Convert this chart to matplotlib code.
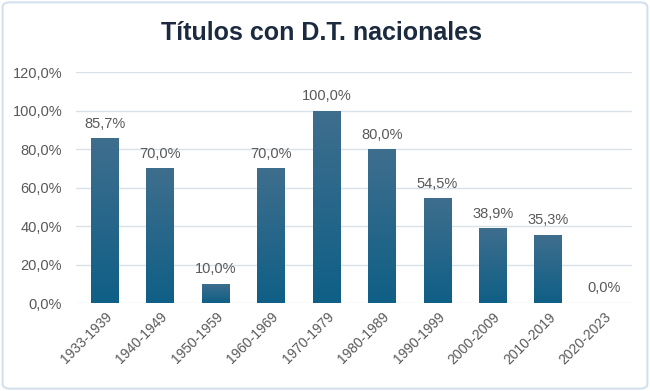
import numpy as np
import matplotlib.pyplot as plt
from matplotlib.patches import FancyBboxPatch
from matplotlib.ticker import FuncFormatter
from matplotlib.colors import LinearSegmentedColormap

decadas = ['1933-1939', '1940-1949', '1950-1959', '1960-1969', '1970-1979',
           '1980-1989', '1990-1999', '2000-2009', '2010-2019', '2020-2023']
porcentajes = [85.7, 70.0, 10.0, 70.0, 100.0, 80.0, 54.5, 38.9, 35.3, 0.0]
titulo = 'Títulos con D.T. nacionales'

plt.rcParams['font.family'] = ['Liberation Sans', 'DejaVu Sans']

fig = plt.figure(figsize=(6.5, 3.91), dpi=100)
fig.patch.set_facecolor('white')
borde = FancyBboxPatch((0.004, 0.006), 0.992, 0.988, boxstyle='round,pad=0,rounding_size=0.012',
                       transform=fig.transFigure, facecolor='none', edgecolor='#d4e1ed',
                       linewidth=1.5, zorder=-1)
fig.patches.append(borde)

ax = fig.add_axes([0.117, 0.225, 0.856, 0.59])
x = np.arange(len(decadas))
bars = ax.bar(x, porcentajes, width=0.5, color='#1f6189', zorder=2)

# degradado vertical en cada barra
grad = np.linspace(0, 1, 256).reshape(-1, 1)
cmap = LinearSegmentedColormap.from_list('barra', ['#0f5f86', '#3f6e8e'])
for b in bars:
    if b.get_height() <= 0:
        continue
    x0, y0 = b.get_x(), b.get_y()
    im = ax.imshow(grad, extent=[x0, x0 + b.get_width(), y0, y0 + b.get_height()],
                   origin='lower', cmap=cmap, aspect='auto', zorder=3)
    im.set_clip_path(b)

for xi, v in zip(x, porcentajes):
    ax.text(xi, v + 4, f'{v:.1f}%'.replace('.', ','), ha='center', va='bottom',
            fontsize=10.5, color='#595959', zorder=4)

ax.set_xlim(-0.52, len(decadas) - 0.48)
ax.set_ylim(0, 120)
ax.set_yticks(np.arange(0, 121, 20))
ax.yaxis.set_major_formatter(FuncFormatter(lambda v, p: f'{v:.1f}%'.replace('.', ',')))
ax.grid(axis='y', color='#d9e1e8', linewidth=1, zorder=0)
for s in ax.spines.values():
    s.set_visible(False)
ax.tick_params(axis='both', length=0, labelcolor='#595959')
ax.tick_params(axis='y', pad=10, labelsize=10.5)
ax.tick_params(axis='x', pad=5, labelsize=10)
ax.set_xticks(x)
ax.set_xticklabels(decadas, rotation=45, ha='right', rotation_mode='anchor')

fig.text(0.495, 0.915, titulo, ha='center', va='center', fontsize=18,
         fontweight='bold', color='#1b2a3f',
         family=['Liberation Sans Narrow', 'Liberation Sans', 'DejaVu Sans'])

fig.savefig('out.png', dpi=100)
